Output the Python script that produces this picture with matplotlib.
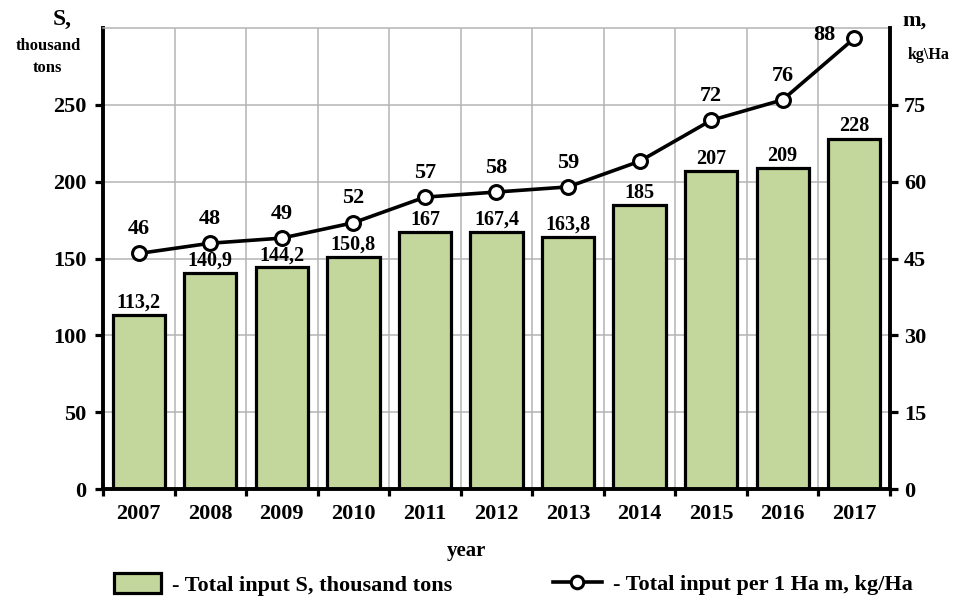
import matplotlib
matplotlib.use("Agg")
import matplotlib.pyplot as plt
from matplotlib.patches import Patch
from matplotlib.lines import Line2D

# data
years = ['2007', '2008', '2009', '2010', '2011', '2012', '2013', '2014', '2015', '2016', '2017']
total_s = [113.2, 140.9, 144.2, 150.8, 167, 167.4, 163.8, 185, 207, 209, 228]
s_labels = ['113,2', '140,9', '144,2', '150,8', '167', '167,4', '163,8', '185', '207', '209', '228']
per_ha = [46, 48, 49, 52, 57, 58, 59, 64, 72, 76, 88]
ha_labels = ['46', '48', '49', '52', '57', '58', '59', '', '72', '76', '88']

left_ticks = [0, 50, 100, 150, 200, 250]
right_ticks = [0, 15, 30, 45, 60, 75]

plt.rcParams['font.family'] = ['Liberation Serif', 'DejaVu Serif']
plt.rcParams['font.weight'] = 'bold'

bar_color = '#c3d69b'
grid_color = '#b4b4b4'

fig = plt.figure(figsize=(9.58, 5.99), dpi=100)
ax = fig.add_axes([0.1075, 0.1836, 0.8215, 0.7694])
x = list(range(len(years)))

ax.bar(x, total_s, width=0.73, color=bar_color, edgecolor='black', linewidth=2.3, zorder=2)
for xi, v, lab in zip(x, total_s, s_labels):
    ax.text(xi, v + 1.5, lab, ha='center', va='bottom', fontsize=14.5, fontweight='bold')

ax.set_xlim(-0.5, len(years) - 0.5)
ax.set_ylim(0, 300)
ax.set_yticks(left_ticks)
ax.set_yticklabels([str(t) for t in left_ticks], fontsize=16, fontweight='bold')
ax.set_xticks(x)
ax.set_xticklabels(years, fontsize=16, fontweight='bold')
ax.set_xticks([i - 0.5 for i in range(len(years) + 1)], minor=True)
ax.tick_params(axis='x', which='major', length=0, pad=11)
ax.tick_params(axis='x', which='minor', length=5, width=2.3, direction='out')
ax.tick_params(axis='y', length=6, width=2.3, direction='out', pad=6)

ax.yaxis.grid(True, color=grid_color, linewidth=1.1)
ax.set_axisbelow(True)
for gx in [i - 0.5 for i in range(1, len(years))]:
    ax.axvline(gx, color=grid_color, linewidth=1.1, zorder=0.5)

ax.spines['left'].set_linewidth(2.8)
ax.spines['bottom'].set_linewidth(2.8)
ax.spines['right'].set_visible(False)
ax.spines['top'].set_color(grid_color)
ax.spines['top'].set_linewidth(1.1)

# right axis: kg/Ha
ax2 = ax.twinx()
ax2.set_ylim(0, 90)
ax2.set_yticks(right_ticks)
ax2.set_yticklabels([str(t) for t in right_ticks], fontsize=16, fontweight='bold')
ax2.tick_params(axis='y', length=6, width=2.3, direction='out', pad=4)
ax2.spines['right'].set_linewidth(2.8)
for s in ['left', 'top', 'bottom']:
    ax2.spines[s].set_visible(False)

ax2.plot(x, per_ha, color='black', linewidth=2.6, marker='o', markersize=10,
         markerfacecolor='white', markeredgecolor='black', markeredgewidth=2.2, zorder=3)
for xi, v, lab in zip(x, per_ha, ha_labels):
    if not lab:
        continue
    if xi == len(years) - 1:
        ax2.text(xi - 0.42, v - 1.2, lab, ha='center', va='bottom', fontsize=16, fontweight='bold')
    else:
        ax2.text(xi, v + 2.8, lab, ha='center', va='bottom', fontsize=16, fontweight='bold')

# axis titles
fig.text(0.065, 0.967, 'S,', ha='center', va='center', fontsize=17, fontweight='bold')
fig.text(0.05, 0.905, 'thousand\ntons', ha='center', va='center', fontsize=12,
         fontweight='bold', linespacing=1.5)
fig.text(0.955, 0.965, 'm,', ha='center', va='center', fontsize=16, fontweight='bold')
fig.text(0.969, 0.908, 'kg\\Ha', ha='center', va='center', fontsize=11.5, fontweight='bold')
fig.text(0.487, 0.08, 'year', ha='center', va='center', fontsize=15, fontweight='bold')

# legend
h1 = Patch(facecolor=bar_color, edgecolor='black', linewidth=2.3)
h2 = Line2D([], [], color='black', linewidth=2.6, marker='o', markersize=9,
            markerfacecolor='white', markeredgecolor='black', markeredgewidth=2.2)
fig.legend([h1], ['- Total input S, thousand tons'], loc='center left',
           bbox_to_anchor=(0.098, 0.024), frameon=False, fontsize=16,
           handlelength=2.1, handleheight=1.0, handletextpad=0.5)
fig.legend([h2], ['- Total input per 1 Ha m, kg/Ha'], loc='center left',
           bbox_to_anchor=(0.556, 0.024), frameon=False, fontsize=16,
           handlelength=2.2, handletextpad=0.5)

fig.savefig('out.png', dpi=100)
